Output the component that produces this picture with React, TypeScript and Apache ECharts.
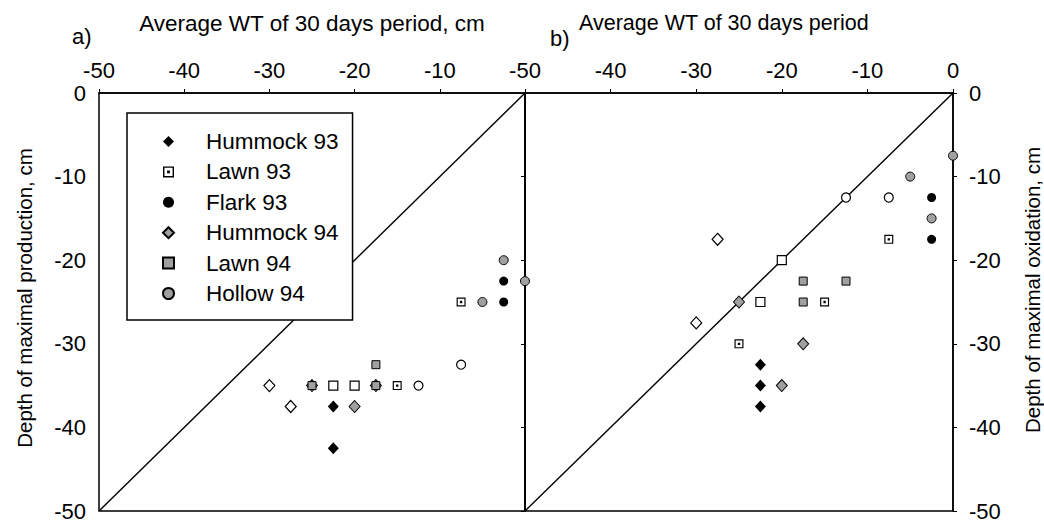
import React, { useEffect, useRef } from "react";
import * as echarts from "echarts";

// ---------- data ----------
const xTicks = [-50, -40, -30, -20, -10, 0];
const yTicks = [0, -10, -20, -30, -40, -50];

const titleA = "Average WT of 30 days period, cm";
const titleB = "Average WT of 30 days period";
const yNameA = "Depth of maximal production, cm";
const yNameB = "Depth of maximal oxidation, cm";

const legendNames = ["Hummock 93", "Lawn 93", "Flark 93", "Hummock 94", "Lawn 94", "Hollow 94"];

// panel a) production  [WT, depth]
const prodHummock93 = [[-22.5, -37.5], [-22.5, -42.5]];
const prodLawn93 = [[-7.5, -25], [-15, -35]];
const prodFlark93 = [[-2.5, -22.5], [-2.5, -25]];
const prodHummock94 = [[-20, -37.5], [-25, -35], [-17.5, -35]];
const prodLawn94 = [[-17.5, -32.5], [-25, -35], [-17.5, -35]];
const prodHollow94 = [[-2.5, -20], [0, -22.5], [-5, -25]];
const prodOpenDiamond = [[-30, -35], [-27.5, -37.5]];
const prodOpenSquare = [[-22.5, -35], [-20, -35]];
const prodOpenCircle = [[-7.5, -32.5], [-12.5, -35]];

// panel b) oxidation
const oxHummock93 = [[-22.5, -32.5], [-22.5, -35], [-22.5, -37.5]];
const oxLawn93 = [[-7.5, -17.5], [-15, -25], [-25, -30]];
const oxFlark93 = [[-2.5, -12.5], [-2.5, -17.5]];
const oxHummock94 = [[-25, -25], [-17.5, -30], [-20, -35]];
const oxLawn94 = [[-17.5, -22.5], [-12.5, -22.5], [-17.5, -25]];
const oxHollow94 = [[0, -7.5], [-5, -10], [-2.5, -15]];
const oxOpenDiamond = [[-27.5, -17.5], [-30, -27.5]];
const oxOpenSquare = [[-20, -20], [-22.5, -25]];
const oxOpenCircle = [[-12.5, -12.5], [-7.5, -12.5]];

const oneToOne = [[-50, -50], [0, 0]];

// ---------- styles ----------
const FONT = "'Liberation Sans', Arial, sans-serif";
const GRAY = "#a0a0a0";
const DOT_SQUARE =
  "path://M0 0H10V10H0Z M1.3 1.3V8.7H8.7V1.3Z M3.7 3.7H6.3V6.3H3.7Z";

type Sty = { symbol: string; size: number | number[]; color: string; border?: string; bw?: number };
const styles: Record<string, Sty> = {
  "Hummock 93": { symbol: "diamond", size: [11, 12], color: "#000" },
  "Lawn 93": { symbol: DOT_SQUARE, size: 9, color: "#000" },
  "Flark 93": { symbol: "circle", size: 9, color: "#000" },
  "Hummock 94": { symbol: "diamond", size: [11, 12], color: GRAY, border: "#000", bw: 1 },
  "Lawn 94": { symbol: "rect", size: 8, color: GRAY, border: "#000", bw: 1 },
  "Hollow 94": { symbol: "circle", size: 9, color: GRAY, border: "#000", bw: 1 },
  "open diamond": { symbol: "diamond", size: [11, 12], color: "#fff", border: "#000", bw: 1.2 },
  "open square": { symbol: "rect", size: 9, color: "#fff", border: "#000", bw: 1.2 },
  "open circle": { symbol: "circle", size: 9, color: "#fff", border: "#000", bw: 1.2 },
};

const panelA: [string, number[][]][] = [
  ["open diamond", prodOpenDiamond],
  ["open square", prodOpenSquare],
  ["open circle", prodOpenCircle],
  ["Hummock 94", prodHummock94],
  ["Lawn 94", prodLawn94],
  ["Hollow 94", prodHollow94],
  ["Hummock 93", prodHummock93],
  ["Lawn 93", prodLawn93],
  ["Flark 93", prodFlark93],
];
const panelB: [string, number[][]][] = [
  ["open diamond", oxOpenDiamond],
  ["open square", oxOpenSquare],
  ["open circle", oxOpenCircle],
  ["Hummock 94", oxHummock94],
  ["Lawn 94", oxLawn94],
  ["Hollow 94", oxHollow94],
  ["Hummock 93", oxHummock93],
  ["Lawn 93", oxLawn93],
  ["Flark 93", oxFlark93],
];

function scatter(name: string, data: number[][], idx: number) {
  const s = styles[name];
  return {
    type: "scatter",
    name,
    xAxisIndex: idx,
    yAxisIndex: idx,
    data,
    symbol: s.symbol,
    symbolSize: s.size,
    z: 3,
    itemStyle: {
      color: s.color,
      borderColor: s.border || s.color,
      borderWidth: s.bw || 0,
      opacity: 1,
    },
    emphasis: { disabled: true },
  };
}

function makeOption() {
  const axisLine = { show: true, lineStyle: { color: "#000", width: 1.5 } };
  const axisTick = { show: true, length: 4, lineStyle: { color: "#000", width: 1 } };
  const label = { fontSize: 22, color: "#000", fontFamily: FONT };
  const xAxisBase = (gi: number, showMax: boolean) => ({
    gridIndex: gi,
    type: "value",
    position: "top",
    min: xTicks[0],
    max: xTicks[xTicks.length - 1],
    interval: 10,
    axisLine,
    axisTick,
    splitLine: { show: false },
    axisLabel: { ...label, margin: 12, showMaxLabel: showMax, formatter: (v: number) => String(v) },
  });
  const yAxisBase = (gi: number, pos: string, margin: number) => ({
    gridIndex: gi,
    type: "value",
    position: pos,
    min: yTicks[yTicks.length - 1],
    max: yTicks[0],
    interval: 10,
    axisLine,
    axisTick,
    splitLine: { show: false },
    axisLabel: { ...label, margin, formatter: (v: number) => String(v) },
  });

  const series: any[] = [];
  series.push({
    type: "line", xAxisIndex: 0, yAxisIndex: 0, data: oneToOne, showSymbol: false, symbol: "none",
    lineStyle: { color: "#000", width: 1.4 }, z: 1, silent: true,
  });
  series.push({
    type: "line", xAxisIndex: 1, yAxisIndex: 1, data: oneToOne, showSymbol: false, symbol: "none",
    lineStyle: { color: "#000", width: 1.4 }, z: 1, silent: true,
  });
  panelA.forEach(([n, d]) => series.push(scatter(n, d, 0)));
  panelB.forEach(([n, d]) => series.push(scatter(n, d, 1)));

  return {
    animation: false,
    backgroundColor: "#fff",
    grid: [
      { left: 99, top: 93, width: 426, height: 421, show: true, borderColor: "#000", borderWidth: 1.5, backgroundColor: "transparent" },
      { left: 525, top: 93, width: 428, height: 421, show: true, borderColor: "#000", borderWidth: 1.5, backgroundColor: "transparent" },
    ],
    xAxis: [xAxisBase(0, false), xAxisBase(1, true)],
    yAxis: [yAxisBase(0, "left", 13), yAxisBase(1, "right", 16)],
    legend: {
      data: legendNames,
      orient: "vertical",
      left: 127,
      top: 113,
      itemWidth: 11,
      itemHeight: 11,
      itemGap: 7.4,
      padding: [17, 14, 15, 35],
      backgroundColor: "#fff",
      borderColor: "#000",
      borderWidth: 1.5,
      borderRadius: 0,
      selectedMode: false,
      textStyle: { fontSize: 22.5, color: "#000", fontFamily: FONT, lineHeight: 20, padding: [0, 0, 0, 27] },
    },
    graphic: [
      { type: "text", left: 72, top: 25, style: { text: "a)", fontSize: 22, fill: "#000", fontFamily: FONT } },
      { type: "text", left: 550, top: 27, style: { text: "b)", fontSize: 22, fill: "#000", fontFamily: FONT } },
      { type: "text", x: 312, y: 23, style: { text: titleA, fontSize: 22.5, fill: "#000", fontFamily: FONT, align: "center", verticalAlign: "middle" } },
      { type: "text", x: 579, y: 23, style: { text: titleB, fontSize: 21.5, fill: "#000", fontFamily: FONT, align: "left", verticalAlign: "middle" } },
      { type: "text", x: 24, y: 298, rotation: Math.PI / 2, style: { text: yNameA, fontSize: 20.5, fill: "#000", fontFamily: FONT, align: "center", verticalAlign: "middle" } },
      { type: "text", x: 1032, y: 290, rotation: Math.PI / 2, style: { text: yNameB, fontSize: 20.5, fill: "#000", fontFamily: FONT, align: "center", verticalAlign: "middle" } },
    ],
    series,
  };
}

export default function App() {
  const ref = useRef<HTMLDivElement>(null);
  useEffect(() => {
    if (!ref.current) return;
    const chart = echarts.init(ref.current, undefined, { renderer: "svg" });
    chart.setOption(makeOption() as any);
    return () => chart.dispose();
  }, []);
  return <div ref={ref} style={{ width: 1044, height: 522, position: "absolute", left: 0, top: 0 }} />;
}
